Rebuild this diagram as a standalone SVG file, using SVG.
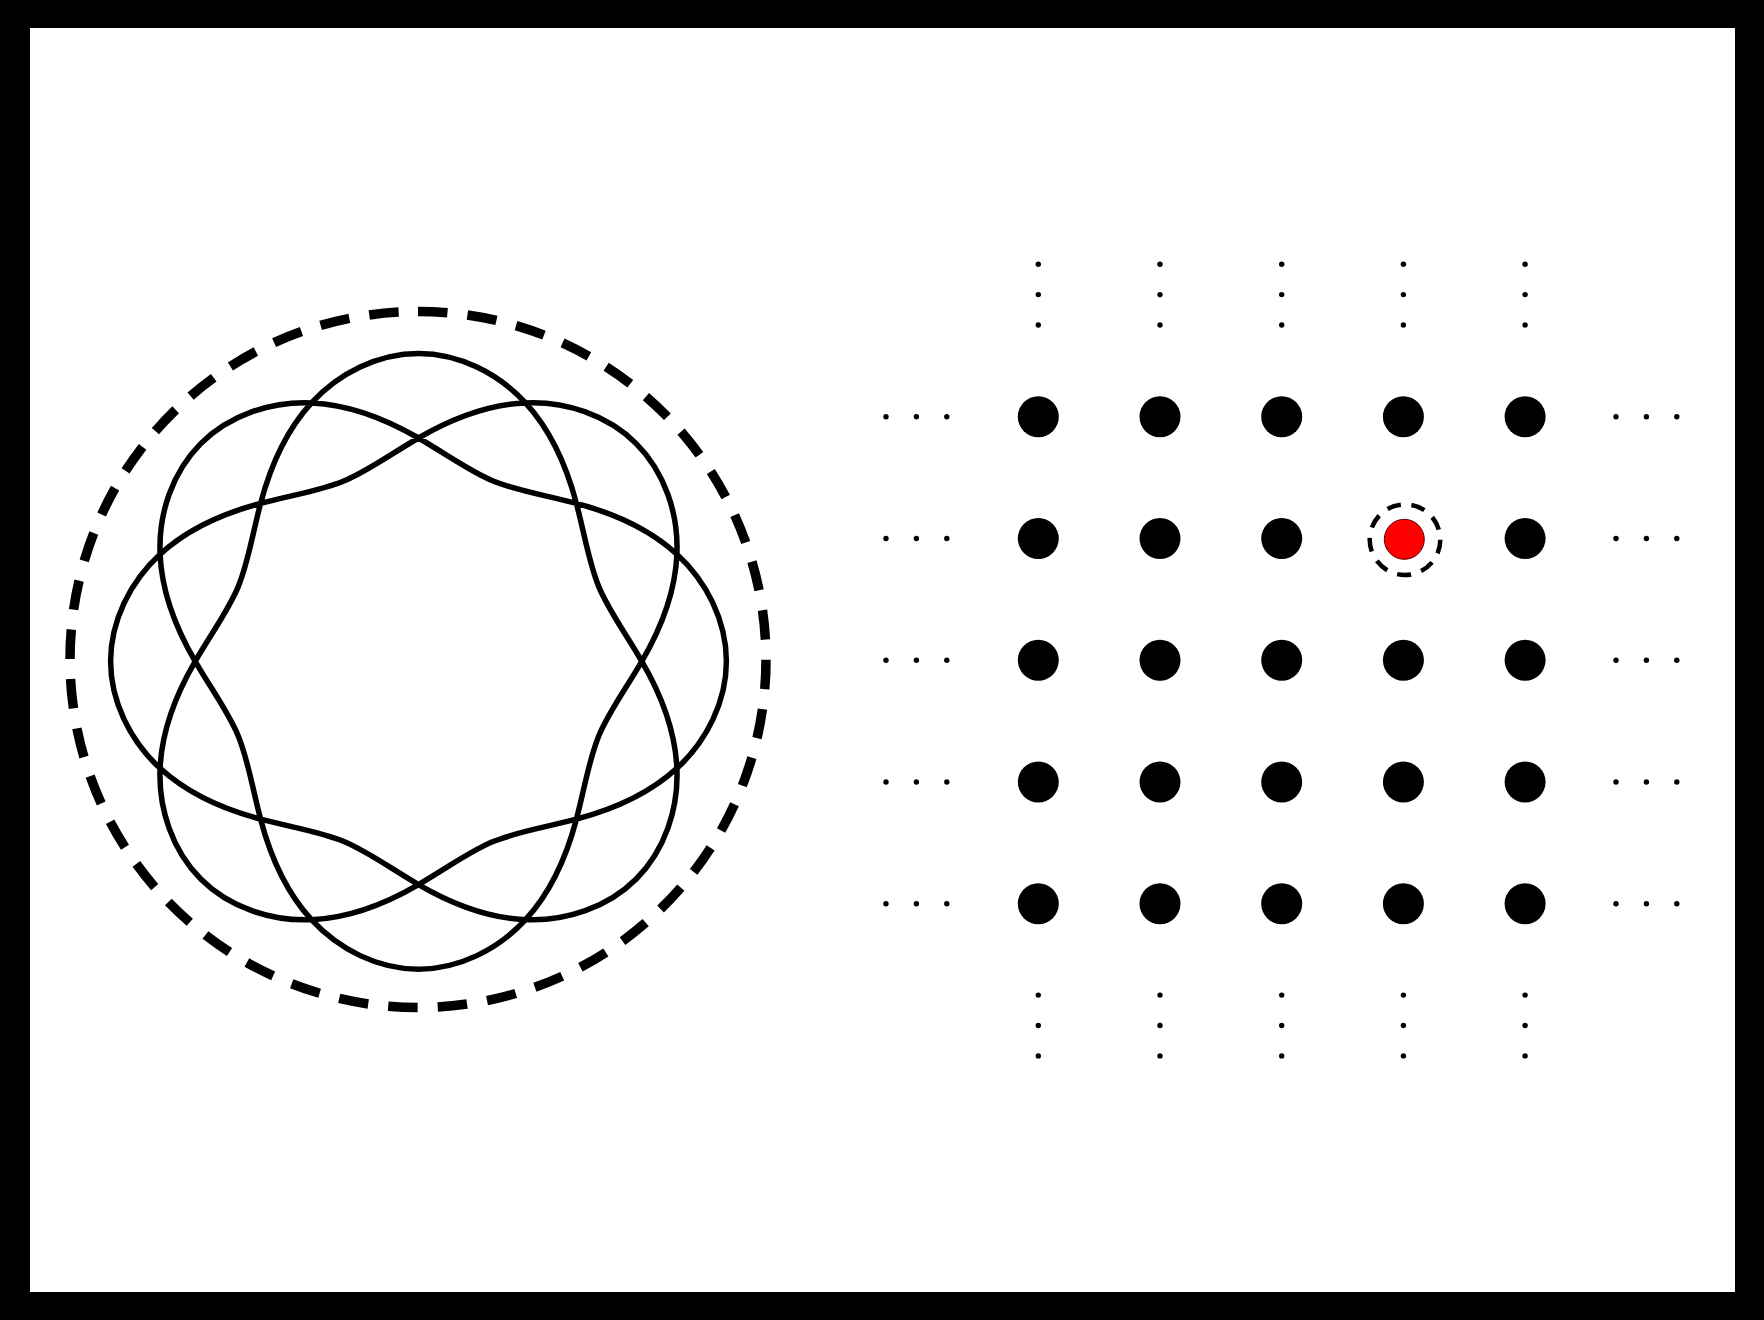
<svg xmlns="http://www.w3.org/2000/svg" width="1764" height="1320" viewBox="0 0 1764 1320">
<style>
.curve{fill:none;stroke:#000;stroke-width:5.5;stroke-linejoin:round}
.ring{fill:none;stroke:#000;stroke-width:9.5;stroke-dasharray:29.5 20.19}
.site{fill:#000}
.dot{fill:#000}
.mark{fill:none;stroke:#000;stroke-width:4.5;stroke-dasharray:14 10.64}
</style>
<rect x="0" y="0" width="1764" height="1320" fill="#000"/>
<rect x="30" y="28" width="1705" height="1264" fill="#fff"/>
<g id="string">
<path class="ring" d="M418,311.5 A348,348 0 1 1 418,1007.5 A348,348 0 1 1 418,311.5"/>
<path class="curve" transform="translate(418.5,661.3)" d="M307.9,0 C307.9,40.3 288.17,79.74 258.41,107.04 C228.65,134.34 190.63,149.29 157.9,157.9 C125.17,166.51 98.26,170.48 74.66,180.25 C51.06,190.02 29.23,206.25 0,223.3 C-29.23,240.35 -66.7,256.67 -107.04,258.41 C-147.38,260.15 -189.22,246.22 -217.72,217.72 C-246.22,189.22 -260.15,147.38 -258.41,107.04 C-256.67,66.7 -240.35,29.23 -223.3,0 C-206.25,-29.23 -190.02,-51.06 -180.25,-74.66 C-170.48,-98.26 -166.51,-125.17 -157.9,-157.9 C-149.29,-190.63 -134.34,-228.65 -107.04,-258.41 C-79.74,-288.17 -40.3,-307.9 0,-307.9 C40.3,-307.9 79.74,-288.17 107.04,-258.41 C134.34,-228.65 149.29,-190.63 157.9,-157.9 C166.51,-125.17 170.48,-98.26 180.25,-74.66 C190.02,-51.06 206.25,-29.23 223.3,0 C240.35,29.23 256.67,66.7 258.41,107.04 C260.15,147.38 246.22,189.22 217.72,217.72 C189.22,246.22 147.38,260.15 107.04,258.41 C66.7,256.67 29.23,240.35 0,223.3 C-29.23,206.25 -51.06,190.02 -74.66,180.25 C-98.26,170.48 -125.17,166.51 -157.9,157.9 C-190.63,149.29 -228.65,134.34 -258.41,107.04 C-288.17,79.74 -307.9,40.3 -307.9,0 C-307.9,-40.3 -288.17,-79.74 -258.41,-107.04 C-228.65,-134.34 -190.63,-149.29 -157.9,-157.9 C-125.17,-166.51 -98.26,-170.48 -74.66,-180.25 C-51.06,-190.02 -29.23,-206.25 0,-223.3 C29.23,-240.35 66.7,-256.67 107.04,-258.41 C147.38,-260.15 189.22,-246.22 217.72,-217.72 C246.22,-189.22 260.15,-147.38 258.41,-107.04 C256.67,-66.7 240.35,-29.23 223.3,0 C206.25,29.23 190.02,51.06 180.25,74.66 C170.48,98.26 166.51,125.17 157.9,157.9 C149.29,190.63 134.34,228.65 107.04,258.41 C79.74,288.17 40.3,307.9 0,307.9 C-40.3,307.9 -79.74,288.17 -107.04,258.41 C-134.34,228.65 -149.29,190.63 -157.9,157.9 C-166.51,125.17 -170.48,98.26 -180.25,74.66 C-190.02,51.06 -206.25,29.23 -223.3,0 C-240.35,-29.23 -256.67,-66.7 -258.41,-107.04 C-260.15,-147.38 -246.22,-189.22 -217.72,-217.72 C-189.22,-246.22 -147.38,-260.15 -107.04,-258.41 C-66.7,-256.67 -29.23,-240.35 0,-223.3 C29.23,-206.25 51.06,-190.02 74.66,-180.25 C98.26,-170.48 125.17,-166.51 157.9,-157.9 C190.63,-149.29 228.65,-134.34 258.41,-107.04 C288.17,-79.74 307.9,-40.3 307.9,0 Z"/>
</g>
<g id="lattice">
<g id="row1">
<circle class="site" cx="1038.3" cy="416.7" r="20.5"/><circle class="site" cx="1160" cy="416.7" r="20.5"/><circle class="site" cx="1281.7" cy="416.7" r="20.5"/><circle class="site" cx="1403.4" cy="416.7" r="20.5"/><circle class="site" cx="1525.1" cy="416.7" r="20.5"/>
</g>
<g id="row2">
<circle class="site" cx="1038.3" cy="538.5" r="20.5"/><circle class="site" cx="1160" cy="538.5" r="20.5"/><circle class="site" cx="1281.7" cy="538.5" r="20.5"/><circle class="site" cx="1525.1" cy="538.5" r="20.5"/>
</g>
<g id="row3">
<circle class="site" cx="1038.3" cy="660.2" r="20.5"/><circle class="site" cx="1160" cy="660.2" r="20.5"/><circle class="site" cx="1281.7" cy="660.2" r="20.5"/><circle class="site" cx="1403.4" cy="660.2" r="20.5"/><circle class="site" cx="1525.1" cy="660.2" r="20.5"/>
</g>
<g id="row4">
<circle class="site" cx="1038.3" cy="782" r="20.5"/><circle class="site" cx="1160" cy="782" r="20.5"/><circle class="site" cx="1281.7" cy="782" r="20.5"/><circle class="site" cx="1403.4" cy="782" r="20.5"/><circle class="site" cx="1525.1" cy="782" r="20.5"/>
</g>
<g id="row5">
<circle class="site" cx="1038.3" cy="903.7" r="20.5"/><circle class="site" cx="1160" cy="903.7" r="20.5"/><circle class="site" cx="1281.7" cy="903.7" r="20.5"/><circle class="site" cx="1403.4" cy="903.7" r="20.5"/><circle class="site" cx="1525.1" cy="903.7" r="20.5"/>
</g>
<g id="marked">
<circle cx="1404.3" cy="539.3" r="20" fill="#f00" stroke="#600" stroke-width="1"/>
<circle class="mark" cx="1405" cy="539.7" r="35.3"/>
</g>
<g id="ellipses">
<g id="left-dots">
<circle class="dot" cx="886" cy="416.7" r="2.7"/><circle class="dot" cx="916.4" cy="416.7" r="2.7"/><circle class="dot" cx="946.8" cy="416.7" r="2.7"/>
<circle class="dot" cx="886" cy="538.5" r="2.7"/><circle class="dot" cx="916.4" cy="538.5" r="2.7"/><circle class="dot" cx="946.8" cy="538.5" r="2.7"/>
<circle class="dot" cx="886" cy="660.2" r="2.7"/><circle class="dot" cx="916.4" cy="660.2" r="2.7"/><circle class="dot" cx="946.8" cy="660.2" r="2.7"/>
<circle class="dot" cx="886" cy="782" r="2.7"/><circle class="dot" cx="916.4" cy="782" r="2.7"/><circle class="dot" cx="946.8" cy="782" r="2.7"/>
<circle class="dot" cx="886" cy="903.7" r="2.7"/><circle class="dot" cx="916.4" cy="903.7" r="2.7"/><circle class="dot" cx="946.8" cy="903.7" r="2.7"/>
</g>
<g id="right-dots">
<circle class="dot" cx="1616" cy="416.7" r="2.7"/><circle class="dot" cx="1646.4" cy="416.7" r="2.7"/><circle class="dot" cx="1676.8" cy="416.7" r="2.7"/>
<circle class="dot" cx="1616" cy="538.5" r="2.7"/><circle class="dot" cx="1646.4" cy="538.5" r="2.7"/><circle class="dot" cx="1676.8" cy="538.5" r="2.7"/>
<circle class="dot" cx="1616" cy="660.2" r="2.7"/><circle class="dot" cx="1646.4" cy="660.2" r="2.7"/><circle class="dot" cx="1676.8" cy="660.2" r="2.7"/>
<circle class="dot" cx="1616" cy="782" r="2.7"/><circle class="dot" cx="1646.4" cy="782" r="2.7"/><circle class="dot" cx="1676.8" cy="782" r="2.7"/>
<circle class="dot" cx="1616" cy="903.7" r="2.7"/><circle class="dot" cx="1646.4" cy="903.7" r="2.7"/><circle class="dot" cx="1676.8" cy="903.7" r="2.7"/>
</g>
<g id="top-dots">
<circle class="dot" cx="1038.3" cy="264.2" r="2.7"/><circle class="dot" cx="1038.3" cy="294.6" r="2.7"/><circle class="dot" cx="1038.3" cy="325" r="2.7"/>
<circle class="dot" cx="1160" cy="264.2" r="2.7"/><circle class="dot" cx="1160" cy="294.6" r="2.7"/><circle class="dot" cx="1160" cy="325" r="2.7"/>
<circle class="dot" cx="1281.7" cy="264.2" r="2.7"/><circle class="dot" cx="1281.7" cy="294.6" r="2.7"/><circle class="dot" cx="1281.7" cy="325" r="2.7"/>
<circle class="dot" cx="1403.4" cy="264.2" r="2.7"/><circle class="dot" cx="1403.4" cy="294.6" r="2.7"/><circle class="dot" cx="1403.4" cy="325" r="2.7"/>
<circle class="dot" cx="1525.1" cy="264.2" r="2.7"/><circle class="dot" cx="1525.1" cy="294.6" r="2.7"/><circle class="dot" cx="1525.1" cy="325" r="2.7"/>
</g>
<g id="bottom-dots">
<circle class="dot" cx="1038.3" cy="995.1" r="2.7"/><circle class="dot" cx="1038.3" cy="1025.5" r="2.7"/><circle class="dot" cx="1038.3" cy="1055.9" r="2.7"/>
<circle class="dot" cx="1160" cy="995.1" r="2.7"/><circle class="dot" cx="1160" cy="1025.5" r="2.7"/><circle class="dot" cx="1160" cy="1055.9" r="2.7"/>
<circle class="dot" cx="1281.7" cy="995.1" r="2.7"/><circle class="dot" cx="1281.7" cy="1025.5" r="2.7"/><circle class="dot" cx="1281.7" cy="1055.9" r="2.7"/>
<circle class="dot" cx="1403.4" cy="995.1" r="2.7"/><circle class="dot" cx="1403.4" cy="1025.5" r="2.7"/><circle class="dot" cx="1403.4" cy="1055.9" r="2.7"/>
<circle class="dot" cx="1525.1" cy="995.1" r="2.7"/><circle class="dot" cx="1525.1" cy="1025.5" r="2.7"/><circle class="dot" cx="1525.1" cy="1055.9" r="2.7"/>
</g>
</g>
</g>
</svg>
